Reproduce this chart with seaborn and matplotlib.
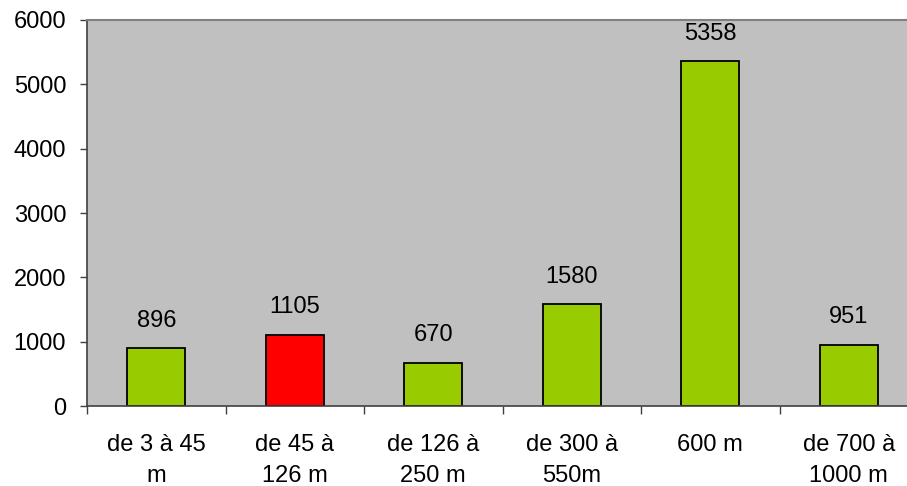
import matplotlib
matplotlib.use("Agg")
import matplotlib.pyplot as plt
from matplotlib.ticker import FixedLocator
import seaborn as sns
import pandas as pd

categories = ["de 3 à 45\nm", "de 45 à\n126 m", "de 126 à\n250 m", "de 300 à\n550m", "600 m", "de 700 à\n1000 m"]
values = [896, 1105, 670, 1580, 5358, 951]
bar_colors = ["#99CC00", "#FF0000", "#99CC00", "#99CC00", "#99CC00", "#99CC00"]
y_ticks = [0, 1000, 2000, 3000, 4000, 5000, 6000]

sns.set_style("white")
plt.rcParams["font.family"] = ["Liberation Sans", "DejaVu Sans"]
FS = 17

df = pd.DataFrame({"cat": categories, "val": values})

W, H = 907, 486
fig = plt.figure(figsize=(W / 100, H / 100), dpi=100)
ax = fig.add_axes([87 / W, (H - 406) / H, (918 - 87) / W, (406 - 20) / H])
ax.set_facecolor("#C0C0C0")

sns.barplot(data=df, x="cat", y="val", hue="cat", palette=bar_colors, legend=False,
            width=0.42, edgecolor="black", linewidth=1.3, saturation=1, ax=ax)

for i, v in enumerate(values):
    ax.annotate(str(v), (i, v), xytext=(0, 12), textcoords="offset points",
                ha="center", va="bottom", fontsize=FS, color="black")

ax.set_xlim(-0.5, len(categories) - 0.5)
ax.set_ylim(0, 6000)
ax.set_yticks(y_ticks)
ax.set_yticklabels([str(t) for t in y_ticks], fontsize=FS, color="black")
ax.set_xlabel("")
ax.set_ylabel("")

ax.set_xticks(range(len(categories)))
ax.set_xticklabels(categories, fontsize=FS, linespacing=1.55, color="black")
ax.tick_params(axis="x", which="major", length=0, pad=20)
ax.xaxis.set_minor_locator(FixedLocator([i - 0.5 for i in range(len(categories) + 1)]))
ax.tick_params(axis="x", which="minor", length=6, width=1, color="#404040", bottom=True)
ax.tick_params(axis="y", which="major", length=5, width=1, color="#404040", left=True, pad=10)

for side in ["left", "bottom"]:
    ax.spines[side].set_color("#404040")
    ax.spines[side].set_linewidth(1.2)
ax.spines["top"].set_color("#808080")
ax.spines["top"].set_linewidth(1.5)
ax.spines["right"].set_visible(False)

fig.savefig("out.png", dpi=100)
